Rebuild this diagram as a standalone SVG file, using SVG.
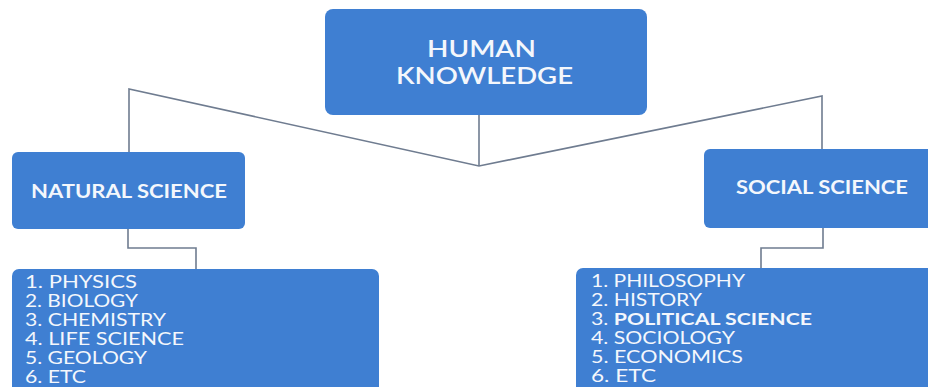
<svg xmlns="http://www.w3.org/2000/svg" width="928" height="387" viewBox="0 0 928 387">
<style>
.box{fill:#3f7fd2;}
.ln{fill:none;stroke:#6f7c90;stroke-width:1.6;}
.t{fill:#f4f7fc;font-family:Lato,"Open Sans","Liberation Sans",sans-serif;}
.h{font-size:23px;font-weight:600;}
.c{font-size:18px;font-weight:bold;}
.l{font-size:17px;}
</style>
<rect width="928" height="387" fill="#ffffff"/>
<g id="connectors">
<polyline class="ln" points="129,152 129,89 479,166 822,96 822,149"/>
<line class="ln" x1="479" y1="115" x2="479" y2="166"/>
<polyline class="ln" points="128,229 128,248 196,248 196,269"/>
<polyline class="ln" points="823,228 823,248 761,248 761,269"/>
</g>
<g id="human-knowledge">
<rect class="box" x="325" y="9" width="322" height="106" rx="8"/>
<text class="t h" x="427" y="57" textLength="109" lengthAdjust="spacingAndGlyphs">HUMAN</text>
<text class="t h" x="396" y="84" textLength="177" lengthAdjust="spacingAndGlyphs">KNOWLEDGE</text>
</g>
<g id="natural-science">
<rect class="box" x="12" y="152" width="233" height="77" rx="6"/>
<text class="t c" x="31" y="198" textLength="196" lengthAdjust="spacingAndGlyphs">NATURAL SCIENCE</text>
</g>
<g id="social-science">
<rect class="box" x="704" y="149" width="240" height="79" rx="6"/>
<text class="t c" x="736" y="194" textLength="172" lengthAdjust="spacingAndGlyphs">SOCIAL SCIENCE</text>
</g>
<g id="natural-list">
<rect class="box" x="12" y="269" width="367" height="130" rx="7"/>
<text class="t l" x="25" y="288" textLength="112" lengthAdjust="spacingAndGlyphs">1. PHYSICS</text>
<text class="t l" x="25" y="307" textLength="113" lengthAdjust="spacingAndGlyphs">2. BIOLOGY</text>
<text class="t l" x="25" y="326" textLength="141" lengthAdjust="spacingAndGlyphs">3. CHEMISTRY</text>
<text class="t l" x="25" y="345" textLength="159" lengthAdjust="spacingAndGlyphs">4. LIFE SCIENCE</text>
<text class="t l" x="25" y="364" textLength="122" lengthAdjust="spacingAndGlyphs">5. GEOLOGY</text>
<text class="t l" x="25" y="383" textLength="61" lengthAdjust="spacingAndGlyphs">6. ETC</text>
</g>
<g id="social-list">
<rect class="box" x="576" y="268" width="370" height="130" rx="7"/>
<text class="t l" x="591" y="287" textLength="154" lengthAdjust="spacingAndGlyphs">1. PHILOSOPHY</text>
<text class="t l" x="591" y="306" textLength="111" lengthAdjust="spacingAndGlyphs">2. HISTORY</text>
<text class="t l" x="591" y="325" textLength="221" lengthAdjust="spacingAndGlyphs">3. <tspan font-weight="bold">POLITICAL SCIENCE</tspan></text>
<text class="t l" x="591" y="344" textLength="144" lengthAdjust="spacingAndGlyphs">4. SOCIOLOGY</text>
<text class="t l" x="591" y="363" textLength="152" lengthAdjust="spacingAndGlyphs">5. ECONOMICS</text>
<text class="t l" x="591" y="382" textLength="65" lengthAdjust="spacingAndGlyphs">6. ETC</text>
</g>
</svg>
